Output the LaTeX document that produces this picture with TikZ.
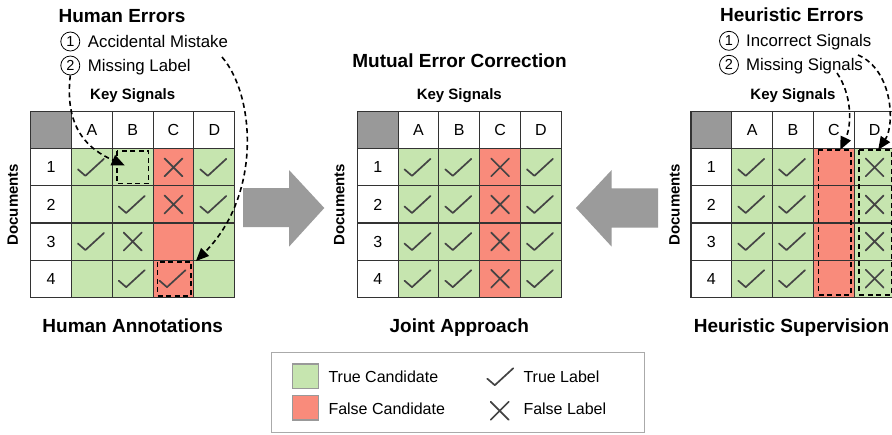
\documentclass[tikz,border=0pt]{standalone}
\usepackage{fontspec}
\setmainfont{Liberation Sans}
\usetikzlibrary{arrows.meta,calc}
\definecolor{tgreen}{RGB}{198,229,175}
\definecolor{tred}{RGB}{249,139,123}
\definecolor{hgray}{RGB}{153,153,153}
\definecolor{agray}{RGB}{155,155,155}
\definecolor{gridc}{RGB}{51,51,51}
\definecolor{markc}{RGB}{68,68,68}
\definecolor{legc}{RGB}{170,170,170}
\tikzset{
 cellbox/.style={draw=gridc, line width=1.1pt, minimum width=40.8pt, minimum height=37.1pt, inner sep=0pt, outer sep=0pt, font=\fontsize{16}{18}\selectfont},
 ttl/.style={font=\bfseries\fontsize{19}{22}\selectfont, inner sep=0pt},
 keysig/.style={font=\bfseries\fontsize{15}{18}\selectfont, inner sep=0pt, anchor=base},
 docs/.style={font=\bfseries\fontsize{15}{18}\selectfont, rotate=90, inner sep=0pt},
 itemtxt/.style={font=\fontsize{16}{19}\selectfont, inner sep=0pt, anchor=base west},
 erritem/.style={itemtxt, font=\fontsize{16.8}{19}\selectfont},
 numcirc/.style={circle, draw=black, line width=0.8pt, minimum size=19pt, inner sep=0pt, font=\fontsize{14.5}{16}\selectfont},
 errarrow/.style={line width=1.6pt, dash pattern=on 5pt off 3.5pt, -{Triangle[length=13pt,width=11pt]}},
 dbox/.style={draw=black, line width=1.7pt, dash pattern=on 5pt off 3.5pt},
 bigarrow/.style={fill=agray, draw=none},
 chkline/.style={draw=markc, line width=1.7pt, line cap=round, line join=round},
 chkmark/.pic={\draw[chkline] (-14,2) -- (-6.5,8.5) -- (12,-8.5);},
 xmark/.pic={\draw[chkline] (-9,-9) -- (9,9) (-9,9) -- (9,-9);},
 swatch/.style={draw=hgray, line width=1.5pt, minimum width=26pt, minimum height=24.5pt, inner sep=0pt},
}
\newcommand\drawtable[3]{%
  \node[cellbox, fill=hgray] (#1-0-0) at ({#2+20.4},130.25) {};
  \foreach \c [count=\i] in {A,B,C,D}
    \node[cellbox, fill=white] (#1-0-\i) at ({#2+20.4+\i*40.8},130.25) {\c};
  \foreach \r in {1,2,3,4}
    \node[cellbox, fill=white] (#1-\r-0) at ({#2+20.4},{130.25+\r*37.1}) {\r};
  \foreach \r/\c/\f/\m in {#3}{
    \node[cellbox, fill=\f] (#1-\r-\c) at ({#2+20.4+\c*40.8},{130.25+\r*37.1}) {};
    \ifcase\m\or \pic at (#1-\r-\c) {chkmark};\or \pic at (#1-\r-\c) {xmark};\fi
  }
}
\begin{document}
\begin{tikzpicture}[x=1pt,y=-1pt]
\useasboundingbox (0,0) rectangle (892,434);
\fill[white] (0,0) rectangle (892,434);

% tables
\drawtable{L}{30.7}{1/1/tgreen/1, 1/2/tgreen/0, 1/3/tred/2, 1/4/tgreen/1,
 2/1/tgreen/0, 2/2/tgreen/1, 2/3/tred/2, 2/4/tgreen/1,
 3/1/tgreen/1, 3/2/tgreen/2, 3/3/tred/0, 3/4/tgreen/0,
 4/1/tgreen/0, 4/2/tgreen/1, 4/3/tred/1, 4/4/tgreen/0}
\drawtable{M}{357.3}{1/1/tgreen/1, 1/2/tgreen/1, 1/3/tred/2, 1/4/tgreen/1,
 2/1/tgreen/1, 2/2/tgreen/1, 2/3/tred/2, 2/4/tgreen/1,
 3/1/tgreen/1, 3/2/tgreen/1, 3/3/tred/2, 3/4/tgreen/1,
 4/1/tgreen/1, 4/2/tgreen/1, 4/3/tred/2, 4/4/tgreen/1}
\drawtable{R}{691}{1/1/tgreen/1, 1/2/tgreen/1, 1/3/tred/0, 1/4/tgreen/2,
 2/1/tgreen/1, 2/2/tgreen/1, 2/3/tred/0, 2/4/tgreen/2,
 3/1/tgreen/1, 3/2/tgreen/1, 3/3/tred/0, 3/4/tgreen/2,
 4/1/tgreen/1, 4/2/tgreen/1, 4/3/tred/0, 4/4/tgreen/2}

% dashed highlight boxes
\draw[dbox] ($(L-1-2.north west)+(4.5,2)$) rectangle ($(L-1-2.south east)+(-4.5,-2.5)$);
\draw[dbox] ($(L-4-3.north west)+(4.5,1.7)$) rectangle ($(L-4-3.south east)+(-3,-1.5)$);
\draw[dbox] ($(R-1-3.north west)+(5,1.5)$) rectangle ($(R-4-3.south east)+(-3.5,-2.5)$);
\draw[dbox] ($(R-1-4.north west)+(5,1.5)$) rectangle ($(R-4-4.south east)+(-3.5,-2.5)$);

% Documents labels
\node[docs] (Ldoc) at (12.8,204.5) {Documents};
\node[docs] (Mdoc) at (339.3,204.5) {Documents};
\node[docs] (Rdoc) at (674.5,204.5) {Documents};

% Key Signals
\node[keysig] (Lks) at (132.7,99.3) {Key Signals};
\node[keysig] (Mks) at (459.3,99.3) {Key Signals};
\node[keysig] (Rks) at (793,99.3) {Key Signals};

% titles
\node[ttl] (Lttl) at (122,15.7) {Human Errors};
\node[ttl] (Mttl) at (459.5,60.7) {Mutual Error Correction};
\node[ttl] (Rttl) at (792,15.2) {Heuristic Errors};
\node[ttl, anchor=base] (Lbot) at (132.7,332) {Human Annotations};
\node[ttl, anchor=base] (Mbot) at (459.3,332) {Joint Approach};
\node[ttl, anchor=base] (Rbot) at (791.5,332) {Heuristic Supervision};

% error items
\node[numcirc] (h1c) at (70.3,41.5) {1};
\node[erritem] (h1t) at (87.7,47) {Accidental Mistake};
\node[numcirc] (h2c) at (70.3,65.5) {2};
\node[erritem] (h2t) at (87.7,71) {Missing Label};
\node[numcirc] (r1c) at (729,40.8) {1};
\node[erritem] (r1t) at (746,46.5) {Incorrect Signals};
\node[numcirc] (r2c) at (729,64.8) {2};
\node[erritem] (r2t) at (746,70.3) {Missing Signals};

% dashed error arrows
\draw[errarrow] (h2c.south) .. controls (64,130) and (90,150) .. ($(L-1-2.center)+(-8,-2)$);
\draw[errarrow] (222,57) .. controls (255,95) and (262,195) .. ($(L-4-3.north east)+(2,1)$);
\draw[errarrow] (837,73) .. controls (852,95) and (852,125) .. ($(R-1-3.north east)+(-14,1)$);
\draw[errarrow] (858,55) .. controls (893,70) and (895,125) .. ($(R-1-4.north west)+(24,1)$);

% big arrows
\fill[bigarrow] (243,188) -- (289,188) -- (289,170) -- (324.3,208) -- (289,246.7) -- (289,227) -- (243,227) -- cycle;
\fill[bigarrow] (658,188.3) -- (611.7,188.3) -- (611.7,170) -- (576,208) -- (611.7,246.7) -- (611.7,227.7) -- (658,227.7) -- cycle;

% legend
\node[draw=legc, line width=1.5pt, minimum width=372.6pt, minimum height=79.6pt, inner sep=0pt] (leg) at (458,392.5) {};
\node[swatch, fill=tgreen] (sw1) at (305.5,376.3) {};
\node[swatch, fill=tred] (sw2) at (305.5,407.5) {};
\node[itemtxt] (lt1) at (328.3,382.5) {True Candidate};
\node[itemtxt] (lt2) at (328.3,414.8) {False Candidate};
\pic at (501.3,376.7) {chkmark};
\pic at (499.7,410.8) {xmark};
\node[itemtxt] (lt3) at (523.3,382.5) {True Label};
\node[itemtxt] (lt4) at (523.3,414.8) {False Label};
\end{tikzpicture}
\end{document}
